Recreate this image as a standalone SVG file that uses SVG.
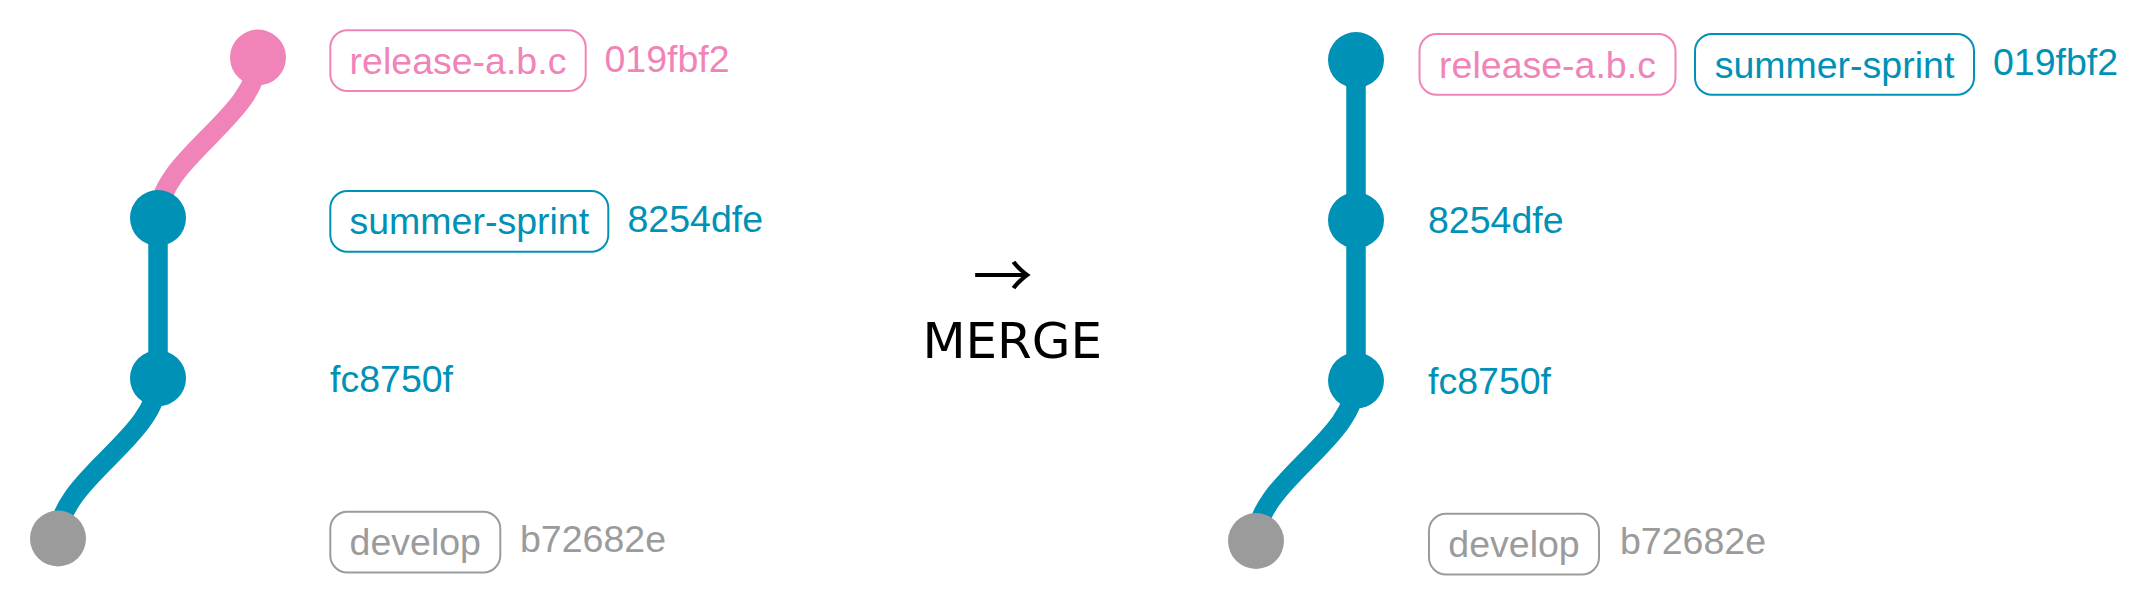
<svg xmlns="http://www.w3.org/2000/svg" width="2142" height="612" viewBox="0 0 2142 612">
<style>
  .lbl { font-family: "Liberation Sans", Arial, sans-serif; font-size: 37.5px; }
  .mid { text-anchor: middle; }
  .box { fill: #ffffff; stroke-width: 2; }
  .pink { fill: #f084b9; }
  .blue { fill: #0091b7; }
  .gray { fill: #9b9b9b; }
  .pinkS { stroke: #f084b9; }
  .blueS { stroke: #0091b7; }
  .grayS { stroke: #9b9b9b; }
  .edge { fill: none; stroke-width: 19.5; }
  .merge { font-family: "DejaVu Sans", Verdana, sans-serif; font-size: 50px; fill: #000000; text-anchor: middle; }
  .arrow { font-family: "Noto Sans CJK SC", "DejaVu Sans", sans-serif; font-size: 60px; fill: #000000; }
</style>
<rect width="2142" height="612" fill="#ffffff"/>

<g id="connectors">
  <path class="edge pinkS" d="M258,57.5 C258,117.5 158,158 158,218"/>
  <path class="edge blueS" d="M158,218 L158,378.3"/>
  <path class="edge blueS" d="M158,378.3 C158,438.3 58,478.5 58,538.5"/>
  <path class="edge blueS" d="M1356,60 L1356,380.6"/>
  <path class="edge blueS" d="M1356,380.6 C1356,440.6 1256,481 1256,541"/>
</g>

<g id="left-019fbf2">
  <circle cx="258" cy="57.5" r="28" class="pink"/>
  <rect class="box pinkS" x="330.3" y="30.3" width="255.4" height="60.7" rx="17"/>
  <text class="lbl mid pink" x="458" y="74">release-a.b.c</text>
  <text class="lbl pink" x="604.5" y="71.5">019fbf2</text>
</g>
<g id="left-8254dfe">
  <circle cx="158" cy="218" r="28" class="blue"/>
  <rect class="box blueS" x="330.3" y="191" width="278" height="60.7" rx="17"/>
  <text class="lbl mid blue" x="469.3" y="234">summer-sprint</text>
  <text class="lbl blue" x="627.5" y="231.5">8254dfe</text>
</g>
<g id="left-fc8750f">
  <circle cx="158" cy="378.3" r="28" class="blue"/>
  <text class="lbl blue" x="330" y="391.7">fc8750f</text>
</g>
<g id="left-b72682e">
  <circle cx="58" cy="538.5" r="28" class="gray"/>
  <rect class="box grayS" x="330.3" y="511.7" width="170" height="60.7" rx="17"/>
  <text class="lbl mid gray" x="415.3" y="554.5">develop</text>
  <text class="lbl gray" x="520" y="552">b72682e</text>
</g>

<g id="merge">
  <text class="arrow" x="972.7" y="298.4">→</text>
  <text class="merge" x="1012.3" y="357.5">MERGE</text>
</g>

<g id="right-019fbf2">
  <circle cx="1356" cy="60" r="28" class="blue"/>
  <rect class="box pinkS" x="1419.5" y="34" width="256" height="60.7" rx="17"/>
  <text class="lbl mid pink" x="1547.5" y="77.5">release-a.b.c</text>
  <rect class="box blueS" x="1695" y="34" width="279" height="60.7" rx="17"/>
  <text class="lbl mid blue" x="1834.5" y="77.5">summer-sprint</text>
  <text class="lbl blue" x="1993" y="74.5">019fbf2</text>
</g>
<g id="right-8254dfe">
  <circle cx="1356" cy="220.3" r="28" class="blue"/>
  <text class="lbl blue" x="1428" y="233">8254dfe</text>
</g>
<g id="right-fc8750f">
  <circle cx="1356" cy="380.6" r="28" class="blue"/>
  <text class="lbl blue" x="1428" y="393.5">fc8750f</text>
</g>
<g id="right-b72682e">
  <circle cx="1256" cy="541" r="28" class="gray"/>
  <rect class="box grayS" x="1429" y="513.7" width="170" height="60.7" rx="17"/>
  <text class="lbl mid gray" x="1514" y="556.5">develop</text>
  <text class="lbl gray" x="1620" y="554">b72682e</text>
</g>
</svg>
